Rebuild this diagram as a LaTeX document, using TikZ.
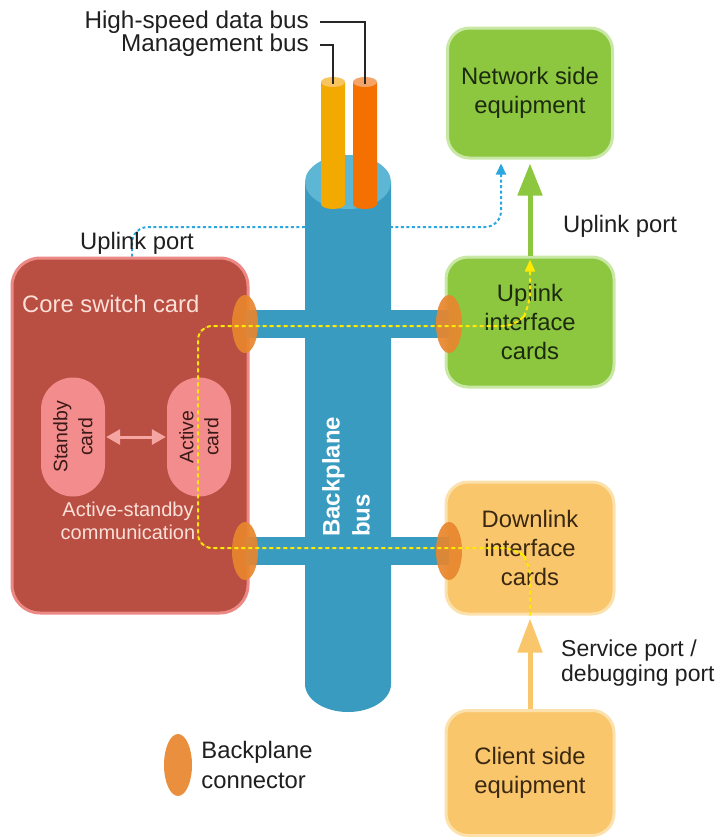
\documentclass[tikz,border=0pt]{standalone}
\usepackage{fontspec}
\setmainfont{Liberation Sans}
\usetikzlibrary{arrows.meta,positioning,shapes.geometric}
\definecolor{busblue}{HTML}{3A9BC1}
\definecolor{bustop}{HTML}{5DB6D3}
\definecolor{tubeyel}{HTML}{F2A900}
\definecolor{tubeyeltop}{HTML}{F7C45E}
\definecolor{tubeora}{HTML}{F47000}
\definecolor{tubeoratop}{HTML}{F5A366}
\definecolor{corefill}{HTML}{B94E42}
\definecolor{coreedge}{HTML}{EC8985}
\definecolor{coretext}{HTML}{FBE0D8}
\definecolor{cardfill}{HTML}{F38C8C}
\definecolor{cardarrow}{HTML}{F6A6A2}
\definecolor{cardtext}{HTML}{3A1A18}
\definecolor{greenfill}{HTML}{8DC63F}
\definecolor{greenedge}{HTML}{C9E8A6}
\definecolor{greentext}{HTML}{1C2A10}
\definecolor{yelfill}{HTML}{F9C66B}
\definecolor{yeledge}{HTML}{FCE1AC}
\definecolor{yeltext}{HTML}{3A2812}
\definecolor{connorange}{HTML}{E8862E}
\definecolor{dotblue}{HTML}{2AA7DF}
\definecolor{dashyel}{HTML}{FFEA00}
\definecolor{dashora}{HTML}{F0A030}
\tikzset{>=latex}
\tikzset{
  lbl/.style={font=\fontsize{23.8}{28}\selectfont, inner sep=0pt, text=black!88},
  leader/.style={line width=2.2pt, black!85},
  box/.style={rounded corners=22pt, line width=3pt, minimum width=168pt,
    minimum height=130pt, align=center, font=\fontsize{23.8}{29}\selectfont},
  greenbox/.style={box, draw=greenedge, fill=greenfill, text=greentext},
  yelbox/.style={box, draw=yeledge, fill=yelfill, text=yeltext},
  card/.style={rotate=90, fill=cardfill, rounded corners=32pt, minimum width=119pt,
    minimum height=64pt, align=center, text=cardtext, font=\fontsize{19.5}{25}\selectfont},
  cardlink/.style={{Triangle[length=14pt,width=15pt]}-{Triangle[length=14pt,width=15pt]},
    line width=3pt, draw=cardarrow, shorten <=1pt, shorten >=1pt},
  bar/.style={line width=28pt, busblue},
  conn/.style={ellipse, fill=connorange, fill opacity=0.92, minimum width=26pt,
    minimum height=58pt, inner sep=0pt},
  updot/.style={draw=dotblue, line width=2pt, dash pattern=on 3pt off 2.5pt,
    rounded corners=16pt, -{Triangle[length=11pt,width=10pt]}, shorten >=4pt},
  yeldash/.style={rounded corners=14pt, line width=2pt, draw=dashyel,
    dash pattern=on 4pt off 3pt,
    preaction={draw=dashora, dash pattern=on 3pt off 4pt, dash phase=3.5pt},
    -{Triangle[length=12pt,width=10pt]}, shorten >=4pt},
  greenarrow/.style={draw=greenfill, line width=5pt,
    -{Triangle[length=32pt,width=24pt]}, shorten >=4pt},
  yelarrow/.style={draw=yelfill, line width=5pt,
    -{Triangle[length=34pt,width=24pt]}, shorten >=3pt},
}
\begin{document}
\begin{tikzpicture}[x=1pt, y=-1pt]
  \useasboundingbox (0,0) rectangle (720,839);

  % equipment boxes on the right
  \node[greenbox, minimum width=165pt] (net) at (530,93) {Network side\\equipment};
  \node[greenbox] (upcards) at (530,322) {Uplink\\interface\\cards};
  \node[yelbox, minimum height=132pt] (downcards) at (530,548) {Downlink\\interface\\cards};
  \node[yelbox, minimum height=125pt] (client) at (530,773) {Client side\\equipment};

  % uplink port of the core card, behind the bus
  \coordinate (coretop) at (132,262);
  \coordinate (upbend) at (501,227);
  \draw[updot] (coretop) |- (upbend) -- (upbend |- net.south);
  \node[lbl] (uplbl) at (137,243) {Uplink port};

  % backplane bus
  \fill[busblue] (305,182) -- (305,684) arc[start angle=180, end angle=0, x radius=43, y radius=28]
    -- (391,182) -- cycle;
  \fill[bustop] (348,182) ellipse[x radius=43, y radius=27];
  \foreach \cx/\cb/\ct in {333/tubeyel/tubeyeltop, 365/tubeora/tubeoratop} {
    \fill[\cb] (\cx-12,82) -- (\cx-12,204) arc[start angle=180, end angle=0, x radius=12, y radius=5]
      -- (\cx+12,82) -- cycle;
    \fill[\ct] (\cx,82) ellipse[x radius=12, y radius=5];
  }
  \node[lbl, anchor=east, font=\fontsize{24.3}{28}\selectfont] (hsbus) at (309,22) {High-speed data bus};
  \node[lbl, anchor=east, font=\fontsize{24.3}{28}\selectfont] (mgbus) at (309,45) {Management bus};
  \coordinate (yeltube) at (333,84);
  \coordinate (oratube) at (365,84);
  \draw[leader] ([xshift=11pt]hsbus.east) -| (oratube);
  \draw[leader] ([xshift=11pt]mgbus.east) -| (yeltube);

  % core switch card
  \node[draw=coreedge, fill=corefill, line width=3pt, rounded corners=28pt,
    minimum width=236pt, minimum height=355pt] (core) at (130,435.5) {};
  \node[lbl, anchor=west, text=coretext] (coretitle) at (22,304) {Core switch card};
  \node[card] (standby) at (73,437) {Standby\\card};
  \node[card] (active) at (199,437) {Active\\card};
  \draw[cardlink] (standby) -- (active);
  \node[lbl, text=coretext, align=center, font=\fontsize{20}{23}\selectfont] (commlbl)
    at (128,521) {Active-standby\\communication};

  % bus branches and connectors
  \coordinate (cul) at (245,324);
  \coordinate (cur) at (449,324);
  \coordinate (cll) at (245,551);
  \coordinate (clr) at (449,551);
  \draw[bar] (cul) -- (cur);
  \draw[bar] (cll) -- (clr);
  \foreach \c in {cul,cur,cll,clr}
    \node[conn] (conn-\c) at (\c) {};
  \node[rotate=90, anchor=west, align=left, text=white, inner sep=0pt,
    font=\bfseries\fontsize{24}{30}\selectfont] (buslbl) at (346,537) {Backplane\\bus};

  % management path
  \draw[yeldash] (downcards.south) -- (530,562) -- (516,548) -- (198,548) -- (198,326)
    -- (518,326) -- (530,306) -- (upcards.north);

  % ports
  \draw[greenarrow] (upcards.north) -- (net.south);
  \draw[yelarrow] (client.north) -- (downcards.south);
  \node[lbl, anchor=west] (uprlbl) at (563,226) {Uplink port};
  \node[lbl, anchor=west, align=left, font=\fontsize{23}{25}\selectfont] (svclbl)
    at (561,663) {Service port /\\debugging port};

  % legend
  \node[conn, minimum width=28pt, minimum height=62pt] (legconn) at (178,765) {};
  \node[lbl, align=left, right=9pt of legconn, font=\fontsize{23.8}{30}\selectfont] (legtxt)
    {Backplane\\connector};
\end{tikzpicture}
\end{document}
